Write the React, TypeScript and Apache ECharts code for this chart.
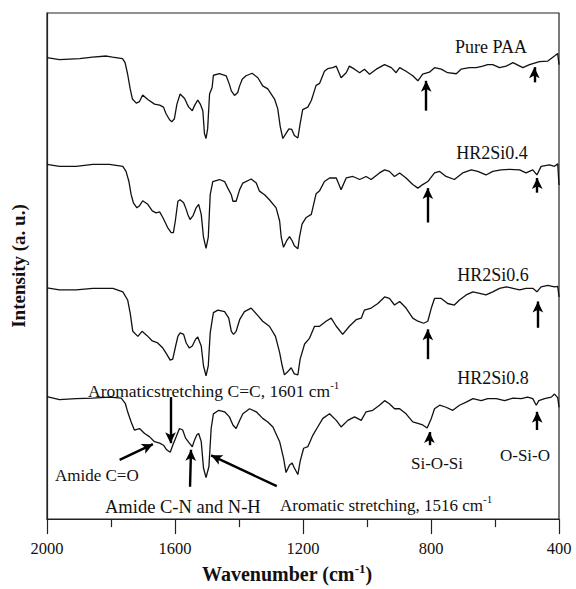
import React, { useEffect, useRef } from "react";
import * as echarts from "echarts";

// FTIR spectra, [wavenumber (cm-1), intensity (a.u., stacked offsets)]
const purePAA: [number, number][] = [
  [2000, 91.2], [1961, 90.8], [1898, 91.0], [1858, 91.3], [1814, 91.5], [1795, 91.3], [1764, 91.0], [1756, 90.2],
  [1748, 87.9], [1740, 85.0], [1733, 83.0], [1721, 82.2], [1711, 82.5], [1701, 83.8], [1685, 82.9], [1664, 82.0],
  [1648, 81.8], [1636, 81.4], [1628, 80.1], [1617, 78.9], [1610, 78.5], [1602, 79.1], [1594, 82.0], [1584, 84.0],
  [1570, 83.1], [1562, 82.0], [1557, 81.4], [1546, 80.7], [1539, 81.7], [1529, 82.8], [1521, 82.0], [1513, 80.7],
  [1508, 76.2], [1503, 75.2], [1498, 77.1], [1492, 84.0], [1484, 85.3], [1480, 87.7], [1461, 88.0], [1440, 87.6],
  [1430, 85.9], [1424, 84.6], [1414, 83.7], [1404, 84.3], [1398, 85.6], [1390, 86.9], [1378, 87.6], [1359, 88.1],
  [1341, 87.2], [1326, 85.6], [1310, 85.0], [1289, 83.0], [1279, 81.1], [1271, 77.5], [1263, 75.2], [1253, 76.2],
  [1244, 77.1], [1235, 77.0], [1227, 75.8], [1216, 75.3], [1209, 78.1], [1201, 80.9], [1185, 81.4], [1174, 82.7],
  [1159, 85.7], [1148, 86.1], [1133, 88.5], [1123, 89.0], [1107, 89.2], [1096, 89.5], [1081, 87.2], [1065, 88.2],
  [1055, 89.5], [1039, 88.9], [1023, 88.2], [1008, 88.9], [992, 87.9], [971, 88.9], [945, 89.8], [924, 89.2],
  [909, 88.2], [898, 89.2], [878, 88.5], [857, 87.6], [841, 86.6], [826, 87.9], [805, 88.3], [789, 89.2],
  [768, 88.9], [748, 88.2], [721, 88.0], [706, 88.9], [680, 89.2], [659, 89.2], [638, 89.5], [623, 89.8],
  [607, 89.8], [586, 89.2], [565, 89.5], [544, 90.2], [513, 89.2], [492, 89.8], [461, 90.4], [435, 90.5],
  [412, 91.6], [404, 92.0], [400, 89.8],
];

const hr2Si04: [number, number][] = [
  [2000, 70.1], [1961, 69.7], [1909, 69.7], [1857, 70.1], [1805, 70.1], [1763, 69.7], [1753, 68.7], [1744, 66.7],
  [1737, 64.1], [1730, 62.5], [1719, 61.5], [1711, 61.9], [1701, 62.9], [1685, 62.2], [1671, 60.9], [1659, 60.5],
  [1648, 60.7], [1638, 59.6], [1623, 57.6], [1612, 56.6], [1605, 56.6], [1599, 58.9], [1591, 62.8], [1584, 63.1],
  [1573, 62.5], [1565, 61.2], [1560, 60.2], [1553, 59.2], [1544, 59.9], [1534, 61.5], [1526, 62.2], [1518, 60.2],
  [1511, 55.7], [1503, 53.5], [1496, 55.7], [1490, 64.1], [1482, 66.7], [1461, 67.1], [1445, 66.7], [1435, 65.4],
  [1424, 64.1], [1419, 62.8], [1409, 62.8], [1398, 65.1], [1388, 66.4], [1362, 67.2], [1346, 66.4], [1336, 64.8],
  [1320, 64.1], [1305, 63.1], [1284, 61.5], [1273, 58.9], [1268, 55.7], [1261, 53.7], [1251, 55.0], [1242, 55.8],
  [1234, 55.0], [1227, 54.0], [1216, 53.4], [1211, 55.7], [1203, 58.3], [1190, 59.6], [1174, 60.2], [1159, 64.3],
  [1148, 64.9], [1133, 66.7], [1117, 67.4], [1096, 67.4], [1081, 65.1], [1065, 67.4], [1044, 67.7], [1023, 67.1],
  [1003, 67.7], [987, 67.1], [961, 68.4], [945, 69.0], [930, 68.7], [914, 67.7], [898, 68.4], [878, 67.4],
  [857, 66.1], [841, 65.4], [826, 66.1], [810, 66.7], [789, 68.4], [773, 68.7], [753, 67.7], [727, 67.1],
  [701, 68.4], [674, 69.0], [654, 68.7], [628, 68.0], [607, 68.7], [581, 69.0], [555, 69.1], [523, 69.0],
  [503, 68.4], [482, 69.0], [469, 68.0], [456, 69.7], [430, 70.0], [414, 69.7], [404, 70.2], [400, 66.0],
];

const hr2Si06: [number, number][] = [
  [2000, 45.7], [1961, 45.3], [1909, 45.3], [1857, 45.6], [1794, 45.6], [1763, 44.9], [1748, 43.3], [1740, 40.7],
  [1732, 37.1], [1716, 36.1], [1703, 37.1], [1688, 36.3], [1671, 35.2], [1654, 34.8], [1638, 33.8], [1626, 32.6],
  [1615, 31.4], [1607, 31.6], [1598, 34.2], [1591, 36.1], [1584, 36.8], [1573, 36.5], [1565, 34.8], [1555, 33.8],
  [1546, 34.2], [1536, 35.5], [1529, 36.0], [1518, 34.2], [1511, 30.3], [1503, 28.3], [1496, 30.3], [1490, 36.8],
  [1480, 40.8], [1466, 41.3], [1445, 41.0], [1432, 39.7], [1424, 37.1], [1417, 36.5], [1409, 37.1], [1398, 39.4],
  [1383, 41.0], [1362, 41.7], [1341, 40.2], [1326, 39.1], [1305, 38.1], [1286, 36.1], [1273, 32.9], [1265, 30.3],
  [1258, 28.5], [1248, 29.1], [1237, 29.9], [1227, 28.7], [1216, 28.5], [1209, 31.6], [1195, 34.6], [1180, 35.7],
  [1164, 38.1], [1148, 38.1], [1128, 39.1], [1112, 39.7], [1096, 38.1], [1076, 36.5], [1055, 38.1], [1034, 39.4],
  [1018, 39.7], [1008, 41.3], [987, 41.7], [966, 42.6], [945, 43.9], [930, 43.6], [914, 42.3], [898, 43.0],
  [878, 41.7], [857, 39.7], [841, 39.1], [823, 38.7], [810, 39.1], [799, 41.7], [789, 43.6], [768, 43.6],
  [748, 42.6], [727, 42.3], [711, 43.3], [690, 44.3], [669, 44.9], [648, 44.6], [628, 44.3], [607, 44.9],
  [586, 45.6], [565, 45.9], [544, 45.6], [523, 45.3], [503, 45.6], [482, 45.6], [469, 44.9], [456, 45.9],
  [435, 46.2], [414, 45.9], [404, 46.0], [400, 43.9],
];

const hr2Si08: [number, number][] = [
  [2000, 24.2], [1961, 23.6], [1909, 23.8], [1857, 23.9], [1805, 24.1], [1768, 23.9], [1755, 22.8], [1748, 21.2],
  [1737, 19.2], [1727, 17.6], [1711, 17.9], [1695, 16.9], [1680, 16.3], [1664, 15.3], [1648, 15.0], [1636, 14.6],
  [1626, 13.7], [1615, 13.2], [1607, 14.6], [1596, 16.3], [1586, 17.9], [1576, 17.6], [1567, 16.0], [1555, 15.0],
  [1546, 14.3], [1539, 15.6], [1532, 16.6], [1526, 16.9], [1518, 15.3], [1511, 10.1], [1503, 8.2], [1494, 10.4],
  [1487, 17.9], [1480, 20.8], [1463, 21.5], [1445, 21.2], [1430, 20.2], [1419, 18.6], [1409, 17.9], [1398, 19.5],
  [1388, 20.8], [1367, 21.8], [1346, 21.2], [1326, 19.9], [1310, 19.2], [1294, 18.2], [1273, 15.3], [1261, 12.1],
  [1253, 9.2], [1242, 10.7], [1234, 11.1], [1227, 10.1], [1216, 8.8], [1209, 11.4], [1198, 14.0], [1185, 14.3],
  [1169, 16.6], [1154, 18.2], [1138, 19.9], [1117, 20.8], [1096, 19.5], [1081, 18.2], [1060, 19.5], [1039, 20.2],
  [1018, 19.5], [1003, 21.2], [982, 21.5], [961, 22.5], [945, 23.4], [930, 22.8], [914, 21.8], [898, 21.8],
  [878, 20.8], [857, 19.2], [841, 18.9], [826, 18.6], [812, 18.0], [799, 19.9], [789, 21.8], [773, 22.5],
  [753, 22.1], [732, 21.5], [711, 22.5], [690, 23.1], [669, 23.8], [643, 23.4], [623, 23.8], [596, 23.8],
  [570, 23.4], [544, 23.9], [518, 23.8], [498, 24.1], [482, 23.8], [471, 22.5], [463, 23.4], [445, 23.8],
  [424, 24.1], [414, 24.7], [404, 24.0], [400, 22.1],
];

const seriesNames = ["Pure PAA", "HR2Si0.4", "HR2Si0.6", "HR2Si0.8"];
const seriesData = [purePAA, hr2Si04, hr2Si06, hr2Si08];

// Peak-marking arrows: [tail, head] in [wavenumber, intensity]
const arrowMarks: [[number, number], [number, number]][] = [
  [[815, 80.7], [815, 86.6]],
  [[477, 86.3], [477, 89.3]],
  [[810, 58.6], [810, 65.4]],
  [[468, 64.5], [468, 67.4]],
  [[810, 31.6], [810, 37.5]],
  [[466, 37.8], [466, 43.0]],
  [[805, 14.6], [805, 17.2]],
  [[468, 17.6], [468, 21.2]],
  [[1614, 24.1], [1614, 15.0]],
  [[1773, 11.7], [1669, 14.8]],
  [[1553, 6.4], [1550, 13.7]],
  [[1282, 6.5], [1487, 12.6]],
];

const SERIF = "Liberation Serif";
const INK = "#111";

function App() {
  const ref = useRef<HTMLDivElement>(null);

  useEffect(() => {
    document.body.style.margin = "0";
    const chart = echarts.init(ref.current!, null, { renderer: "svg" });

    const nameLabelPos = [
      [491, 46.5],
      [492, 153],
      [493, 275],
      [493, 378],
    ];

    const supRich = (size: number) => ({
      b: { fontFamily: SERIF, fontSize: size, lineHeight: 24, fill: INK },
      s: { fontFamily: SERIF, fontSize: 11, lineHeight: 11, verticalAlign: "top", fill: INK },
    });

    const annText = (x: number, y: number, text: string, size = 17, align = "left", rich?: any) => ({
      type: "text",
      x,
      y,
      silent: true,
      style: {
        text,
        fill: INK,
        fontFamily: SERIF,
        fontSize: size,
        align,
        verticalAlign: "middle",
        rich,
      },
    });

    chart.setOption({
      animation: false,
      textStyle: { fontFamily: SERIF },
      grid: {
        left: 47,
        right: 17,
        top: 13,
        bottom: 64,
        show: true,
        borderColor: "#222",
        borderWidth: 1.2,
      },
      xAxis: {
        type: "value",
        min: 400,
        max: 2000,
        interval: 400,
        inverse: true,
        axisLine: { show: true, lineStyle: { color: "#222", width: 1.2 } },
        axisTick: { show: true, length: 15, lineStyle: { color: "#222", width: 1.2 } },
        minorTick: { show: true, splitNumber: 2, length: 8, lineStyle: { color: "#222", width: 1.2 } },
        splitLine: { show: false },
        minorSplitLine: { show: false },
        axisLabel: {
          fontFamily: SERIF,
          fontSize: 16.5,
          color: INK,
          margin: 21,
          formatter: (v: number) => String(v),
        },
        name: "{n|Wavenumber (cm}{s|-1}{n|)}",
        nameLocation: "middle",
        nameGap: 42,
        nameTextStyle: {
          fontFamily: SERIF,
          fontWeight: "bold",
          fontSize: 20,
          color: INK,
          padding: [0, 32, 0, 0],
          rich: {
            n: { fontFamily: SERIF, fontWeight: "bold", fontSize: 20, lineHeight: 24, color: INK },
            s: { fontFamily: SERIF, fontWeight: "bold", fontSize: 13, lineHeight: 15, verticalAlign: "top", color: INK },
          },
        },
      },
      yAxis: {
        type: "value",
        min: 0,
        max: 100,
        axisLine: { show: true, lineStyle: { color: "#222", width: 1.2 } },
        axisTick: { show: false },
        axisLabel: { show: false },
        splitLine: { show: false },
        name: "Intensity (a. u.)",
        nameLocation: "middle",
        nameGap: 19,
        nameTextStyle: { fontFamily: SERIF, fontWeight: "bold", fontSize: 19, color: INK },
      },
      series: seriesData.map((d, i) => ({
        name: seriesNames[i],
        type: "line",
        data: d,
        showSymbol: false,
        symbol: "none",
        silent: true,
        lineStyle: { color: INK, width: 1.3 },
        markLine:
          i === seriesData.length - 1
            ? {
                silent: true,
                symbol: ["none", "arrow"],
                symbolSize: [8, 11],
                label: { show: false },
                lineStyle: { color: "#000", width: 2.4, type: "solid" },
                data: arrowMarks.map(([a, b]) => [{ coord: a }, { coord: b }]),
              }
            : undefined,
      })),
      graphic: [
        ...seriesNames.map((n, i) => ({
          type: "text",
          x: nameLabelPos[i][0],
          y: nameLabelPos[i][1],
          silent: true,
          style: {
            text: n,
            fill: INK,
            fontFamily: SERIF,
            fontSize: 18,
            align: "center",
            verticalAlign: "middle",
          },
        })),
        annText(88, 391, "{b|Aromaticstretching C=C, 1601 cm}{s|-1}", 17.5, "left", supRich(17.5)),
        annText(55, 475, "Amide C=O", 17),
        annText(105, 507, "Amide C-N and N-H", 18.5),
        annText(280, 505, "{b|Aromatic stretching, 1516 cm}{s|-1}", 17, "left", supRich(17)),
        annText(437, 463, "Si-O-Si", 17, "center"),
        annText(525, 455, "O-Si-O", 17, "center"),
      ],
    });

    return () => chart.dispose();
  }, []);

  return <div ref={ref} style={{ width: 576, height: 589 }} />;
}

export default App;
